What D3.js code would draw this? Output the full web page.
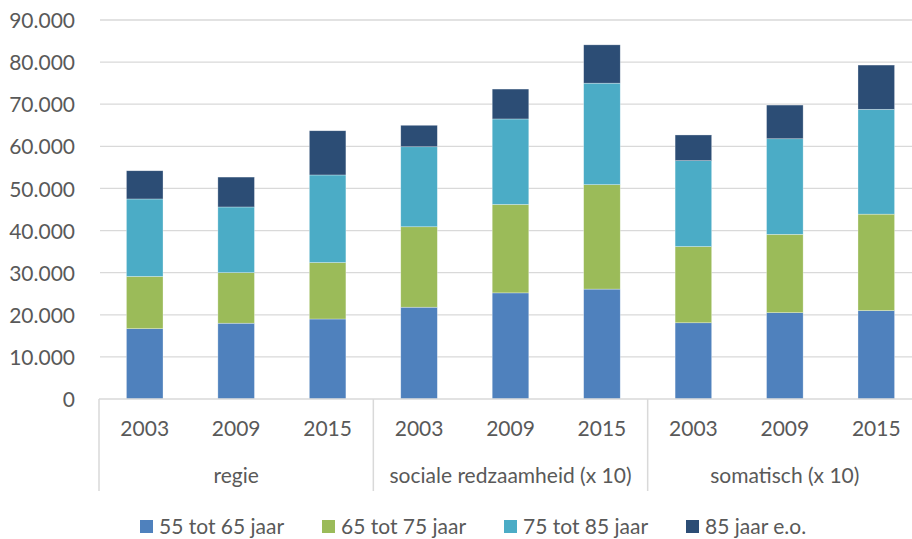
<!DOCTYPE html>
<html><head><meta charset="utf-8">
<script src="https://cdn.jsdelivr.net/npm/d3@7"></script>
<style>
html,body{margin:0;padding:0;background:#fff;overflow:hidden}
text{font-family:Lato,"Open Sans",sans-serif;fill:#595959}
</style></head>
<body><svg id="c" width="912" height="539"></svg>
<script>
const groups = ["regie", "sociale redzaamheid (x 10)", "somatisch (x 10)"];
const years = ["2003", "2009", "2015"];
const seriesNames = ["55 tot 65 jaar", "65 tot 75 jaar", "75 tot 85 jaar", "85 jaar e.o."];
const s55 = [16700, 18000, 19000, 21800, 25200, 26100, 18100, 20500, 21000];
const s65 = [12400, 12000, 13400, 19100, 21000, 24800, 18100, 18600, 22900];
const s75 = [18400, 15600, 20800, 19000, 20300, 24100, 20400, 22700, 24900];
const s85 = [6700, 7100, 10500, 5100, 7100, 9100, 6100, 8000, 10500];
const yTicks = [0, 10000, 20000, 30000, 40000, 50000, 60000, 70000, 80000, 90000];
const colors = ["#4f81bd", "#9bbb59", "#4bacc6", "#2c4d75"];

const seriesVals = [s55, s65, s75, s85];
const cats = [];
groups.forEach(g => years.forEach(y => cats.push({group: g, year: y, key: g + "|" + y})));
const rows = cats.map((c, i) => {
  const r = {key: c.key};
  seriesNames.forEach((s, j) => r[s] = seriesVals[j][i]);
  return r;
});

const svg = d3.select("#c");
const x = d3.scaleBand().domain(cats.map(c => c.key)).range([99, 922]).paddingInner(0.6).paddingOuter(0.3);
const y = d3.scaleLinear().domain([0, 90000]).range([399, 20]);
const nl = d3.formatLocale({decimal: ",", thousands: ".", grouping: [3], currency: ["€", ""]});
const fmt = nl.format(",");

// gridlines + y labels
const ya = svg.append("g").attr("transform", "translate(100,0)")
  .call(d3.axisLeft(y).tickValues(yTicks).tickFormat(fmt).tickSize(0).tickPadding(25));
ya.select(".domain").remove();
ya.selectAll("text").style("font-size", "21px").style("font-family", "Lato, sans-serif").attr("fill", "#595959").attr("dy", "0.36em");
svg.append("g").selectAll("line").data(yTicks.filter(t => t > 0)).join("line")
  .attr("x1", 100).attr("x2", 912).attr("y1", d => y(d)).attr("y2", d => y(d))
  .attr("stroke", "#d9d9d9").attr("stroke-width", 1.3);

// bars
const stack = d3.stack().keys(seriesNames)(rows);
svg.append("g").selectAll("g").data(stack).join("g").attr("fill", (d, i) => colors[i])
  .selectAll("rect").data(d => d).join("rect")
  .attr("x", d => x(d.data.key)).attr("width", x.bandwidth())
  .attr("y", d => y(d[1])).attr("height", d => y(d[0]) - y(d[1]))
  .attr("stroke", "#ffffff").attr("stroke-opacity", 0.5).attr("stroke-width", 0.6);

// x axis
const xa = svg.append("g").attr("transform", "translate(0,399)")
  .call(d3.axisBottom(x).tickFormat(k => k.split("|")[1]).tickSize(0).tickPadding(22));
xa.select(".domain").remove();
xa.selectAll("text").style("font-size", "21px").style("font-family", "Lato, sans-serif").attr("fill", "#595959");
svg.append("line").attr("x1", 99).attr("x2", 912).attr("y1", 399).attr("y2", 399)
  .attr("stroke", "#d9d9d9").attr("stroke-width", 1.5);

const step = x.step();
const x0 = x.range()[0];
const seps = d3.range(groups.length).map(i => x(groups[i] + "|" + years[0]) - x.bandwidth() * 0 - (step - x.bandwidth()) / 2);
svg.append("g").selectAll("line").data(seps).join("line")
  .attr("x1", d => d).attr("x2", d => d).attr("y1", 399).attr("y2", 491)
  .attr("stroke", "#d9d9d9").attr("stroke-width", 1.5);

svg.append("g").selectAll("text").data(groups).join("text")
  .attr("x", g => (x(g + "|" + years[0]) + x(g + "|" + years[years.length - 1]) + x.bandwidth()) / 2)
  .attr("y", 483).attr("text-anchor", "middle").style("font-size", "21px").text(g => g);

// legend
const legX = [140, 322, 504, 686];
const leg = svg.append("g").selectAll("g").data(seriesNames).join("g")
  .attr("transform", (d, i) => `translate(${legX[i]},0)`);
leg.append("rect").attr("x", 0).attr("y", 520).attr("width", 13).attr("height", 13).attr("fill", (d, i) => colors[i]);
leg.append("text").attr("x", 19).attr("y", 534).style("font-size", "21px").text(d => d);
</script></body></html>
